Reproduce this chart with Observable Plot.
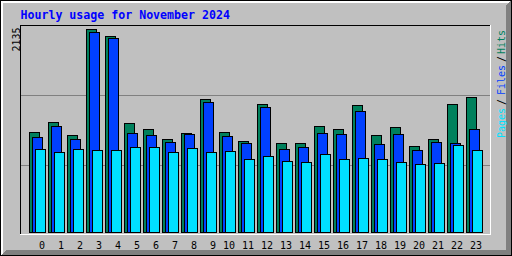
<!DOCTYPE html>
<html><head><meta charset="utf-8">
<script src="https://cdn.jsdelivr.net/npm/d3@7"></script>
<script src="https://cdn.jsdelivr.net/npm/@observablehq/plot@0.6"></script>
<style>body{margin:0;background:#fff}</style>
</head><body><div id="chart"></div>
<script>
const title = "Hourly usage for November 2024";
const hours = [0,1,2,3,4,5,6,7,8,9,10,11,12,13,14,15,16,17,18,19,20,21,22,23];
const hits  = [1051,1154,1017,2135,2065,1143,1080,975,1038,1396,1051,954,1343,933,933,1112,1080,1332,1017,1101,901,975,1343,1417];
const files = [996,1112,975,2107,2043,1038,1017,943,1027,1364,1006,933,1311,876,891,1038,1027,1269,922,1027,859,943,933,1080];
const pages = [870,841,870,859,859,891,891,838,880,838,849,765,796,744,733,817,765,775,765,733,712,723,912,859];
const maxLabel = "2135";
const gridValues = [705, 1441];
const legendLabels = ["Pages", "/", "Files", "/", "Hits"];
const legendColors = ["#00E0FF", "#000000", "#0040FF", "#000000", "#00805C"];

const colHits = "#00805C", colFiles = "#0040FF", colPages = "#00E0FF";
const data = hours.map((h, i) => ({h, hits: hits[i], files: files[i], pages: pages[i]}));

// layout helpers (pixel -> hour units)
const slot = 19, x0 = 29.5;
const px = p => (p - x0) / slot;
const mono = "DejaVu Sans Mono";
const legendStarts = [137.5, 104.5, 94.5, 61.5, 53.5];

const bar = (key, off, fill) => Plot.rect(data, {
  x1: d => d.h + off / slot, x2: d => d.h + (off + 10) / slot,
  y1: 0, y2: key, fill, stroke: "#000", strokeWidth: 1, shapeRendering: "crispEdges"
});

const plot = Plot.plot({
  width: 512, height: 256,
  marginTop: 0, marginRight: 0, marginBottom: 0, marginLeft: 0,
  style: {background: "#C0C0C0", overflow: "hidden"},
  x: {type: "linear", domain: [px(0), px(512)], range: [0, 512], axis: null},
  y: {type: "linear", domain: [0, 2135], range: [232.5, 29.5], axis: null},
  marks: [
    Plot.ruleY(gridValues, {x1: px(21), x2: px(490), stroke: "#808080", strokeWidth: 1, shapeRendering: "crispEdges"}),
    bar("hits", 0, colHits),
    bar("files", 3, colFiles),
    bar("pages", 6, colPages),
    Plot.text(hours, {x: h => h + 15 / slot, frameAnchor: "bottom", text: d => String(d),
      textAnchor: "end", lineAnchor: "bottom", dy: -7.5, fontFamily: mono, fontSize: 10, fill: "#000"}),
    Plot.text([title], {frameAnchor: "top-left", dx: 20, dy: 18.5, textAnchor: "start", lineAnchor: "bottom",
      fill: "#0000FF", fontFamily: mono, fontWeight: "bold", fontSize: 11.6}),
    Plot.text([maxLabel], {frameAnchor: "top-left", dx: 19.5, dy: 51, rotate: -90, textAnchor: "start",
      lineAnchor: "bottom", fill: "#000", fontFamily: mono, fontSize: 10}),
    ...legendLabels.map((t, i) => Plot.text([t], {frameAnchor: "top-left", dx: 504, dy: legendStarts[i], rotate: -90,
      textAnchor: "start", lineAnchor: "bottom", fill: legendColors[i], fontFamily: mono, fontSize: 10}))
  ]
});

const svg = d3.select(plot);
const deco = svg.insert("g", ":first-child").attr("shape-rendering", "crispEdges");
// bevel
deco.append("polygon").attr("points", "511,0 511,256 0,256 6,250 506,250 506,5").attr("fill", "#808080");
deco.append("polygon").attr("points", "1,1 510,1 508,3 3,3 3,253 1,255").attr("fill", "#FFFFFF");
deco.append("rect").attr("x", 0.5).attr("y", 0.5).attr("width", 511).attr("height", 255)
  .attr("fill", "none").attr("stroke", "#000");
// plot frame
deco.append("path").attr("d", "M20.5,234 V25.5 H490").attr("fill", "none").attr("stroke", "#000");
deco.append("path").attr("d", "M20,234.5 H490.5 V25").attr("fill", "none").attr("stroke", "#FFF");
svg.select("style").raise;
document.getElementById("chart").appendChild(plot);
</script>
</body></html>
